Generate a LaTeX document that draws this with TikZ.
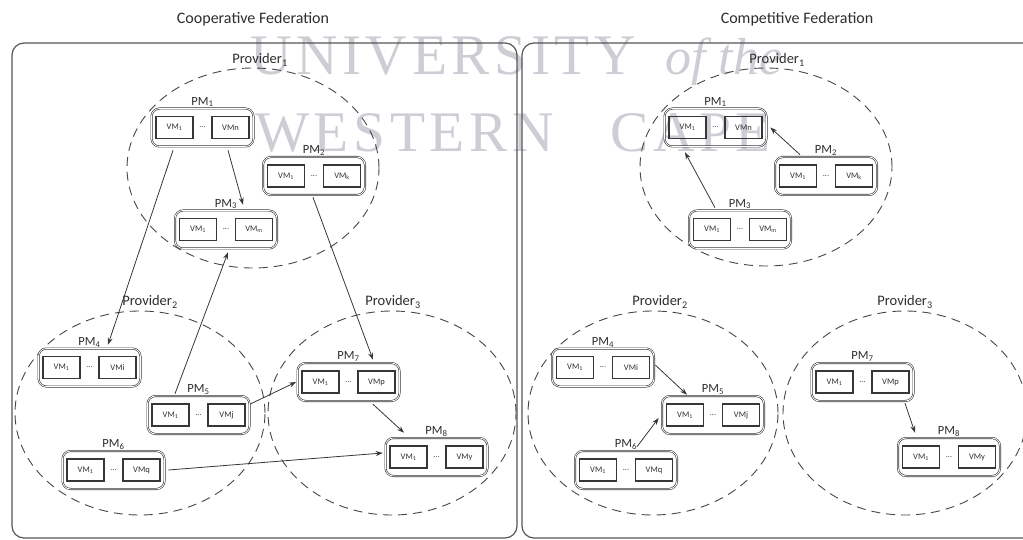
\documentclass[tikz,border=0pt]{standalone}
\usepackage{fontspec}
\setmainfont{Carlito}
\newfontfamily\wmfont[LetterSpace=8]{Liberation Serif}
\newfontfamily\wmitfont{Liberation Serif}
\usetikzlibrary{shapes.geometric,arrows.meta,calc}
\definecolor{ink}{RGB}{55,55,55}
\definecolor{txt}{RGB}{45,45,45}
\definecolor{frame}{RGB}{85,85,85}
\definecolor{wm}{RGB}{205,205,213}
\definecolor{dashc}{RGB}{70,70,70}

\tikzset{
  panel/.style={draw=frame, line width=1.2pt, rounded corners=12pt},
  provider/.style={ellipse, draw=dashc, line width=0.9pt, dash pattern=on 9pt off 6pt, inner sep=0pt},
  provlabel/.style={text=txt, font=\fontsize{14.5}{16}\selectfont, inner sep=0pt},
  pmbox/.style={draw=ink, double, double distance=0.8pt, line width=0.6pt, rounded corners=8pt,
                minimum width=102pt, minimum height=38pt, inner sep=0pt},
  vmbox/.style={draw=ink, line width=1.2pt, minimum width=37pt, minimum height=22pt, inner sep=0pt,
                font=\fontsize{8.5}{9}\selectfont, text=txt},
  pmlabel/.style={text=txt, font=\fontsize{12.5}{14}\selectfont, inner sep=0pt, anchor=base},
  flow/.style={draw=ink, line width=0.8pt, -{Stealth[length=7pt,width=5pt]}},
  title/.style={text=txt, font=\fontsize{16}{18}\selectfont, inner sep=0pt},
  watermark/.style={text=wm, inner sep=0pt, anchor=base west},
}

% a physical machine: rounded box holding two VM boxes and a dotted gap
% #1 name, #2 x, #3 y, #4 label, #5 text of the right VM
\newcommand\PMnode[5]{%
  \node[pmbox] (#1) at (#2,#3) {};
  \node[vmbox] (#1a) at ($(#1.center)+(-28,0)$) {VM\textsubscript{1}};
  \node[vmbox] (#1b) at ($(#1.center)+(28,0)$) {#5};
  \node[text=txt, font=\fontsize{8}{9}\selectfont, inner sep=0pt] (#1d) at (#1.center) {...};
  \node[pmlabel] (#1l) at ($(#1.north)+(0,-3)$) {#4};
}

\begin{document}
\begin{tikzpicture}[x=1pt,y=-1pt]
\useasboundingbox (0,0) rectangle (1023,540);
\clip (0,0) rectangle (1023,540);

% watermark
\node[watermark, font={\wmfont\fontsize{57.4}{60}\selectfont}] (wmU) at (250,75) {UNIVERSITY};
\node[watermark, font={\wmitfont\itshape\fontsize{52}{56}\selectfont}] (wmO) at (665,75) {of the};
\node[watermark, font={\wmfont\fontsize{57.4}{60}\selectfont}] (wmW) at (255,152) {WESTERN};
\node[watermark, font={\wmfont\fontsize{57.4}{60}\selectfont}] (wmC) at (610,152) {CAPE};

% titles and panels
\node[title] (tL) at (253,19) {Cooperative Federation};
\node[title] (tR) at (797,19) {Competitive Federation};
\draw[panel] (12,43) rectangle (517,538);
\draw[panel] (522,43) rectangle (1040,538);

% ---------- cooperative federation ----------
\node[provider, minimum width=252pt, minimum height=200pt] (p1L) at (253,168) {};
\node[provider, minimum width=250pt, minimum height=204pt] (p2L) at (140,413) {};
\node[provider, minimum width=248pt, minimum height=204pt] (p3L) at (392,413) {};
\node[provlabel] (p1Lt) at (260,60) {Provider\textsubscript{1}};
\node[provlabel] (p2Lt) at (150,302) {Provider\textsubscript{2}};
\node[provlabel] (p3Lt) at (393,302) {Provider\textsubscript{3}};

\PMnode{pm1L}{202.5}{127.5}{PM\textsubscript{1}}{VMn}
\PMnode{pm2L}{314}{176}{PM\textsubscript{2}}{VM\textsubscript{k}}
\PMnode{pm3L}{226}{229.5}{PM\textsubscript{3}}{VM\textsubscript{m}}
\PMnode{pm4L}{89.5}{367.5}{PM\textsubscript{4}}{VMi}
\PMnode{pm5L}{198.5}{415}{PM\textsubscript{5}}{VMj}
\PMnode{pm6L}{113.5}{470}{PM\textsubscript{6}}{VMq}
\PMnode{pm7L}{348.5}{382}{PM\textsubscript{7}}{VMp}
\PMnode{pm8L}{436.5}{457}{PM\textsubscript{8}}{VMy}

\draw[flow] ([xshift=-29.5pt,yshift=-3.5pt]pm1L.south) -- ([xshift=18.5pt,yshift=3.5pt]pm4L.north);
\draw[flow] ([xshift=25.5pt,yshift=-3.5pt]pm1L.south) -- ([xshift=17pt,yshift=5.5pt]pm3L.north);
\draw[flow] ([xshift=-23.5pt,yshift=2pt]pm5L.north) -- ([xshift=2pt,yshift=-3.5pt]pm3L.south);
\draw[flow] ([xshift=-1pt,yshift=-2pt]pm2L.south) -- ([xshift=24.5pt,yshift=3pt]pm7L.north);
\draw[flow] ([xshift=0.5pt,yshift=11pt]pm5L.east) -- ([xshift=-1pt]pm7L.west);
\draw[flow] ([xshift=24.5pt,yshift=-3pt]pm7L.south) -- ([xshift=-32.5pt,yshift=5pt]pm8L.north);
\draw[flow] ([xshift=3.5pt]pm6L.east) -- ([xshift=-2.5pt,yshift=4pt]pm8L.west);

% ---------- competitive federation ----------
\node[provider, minimum width=252pt, minimum height=198pt] (p1R) at (766,167) {};
\node[provider, minimum width=250pt, minimum height=204pt] (p2R) at (653,413) {};
\node[provider, minimum width=244pt, minimum height=204pt] (p3R) at (905,413) {};
\node[provlabel] (p1Rt) at (777,60) {Provider\textsubscript{1}};
\node[provlabel] (p2Rt) at (660,302) {Provider\textsubscript{2}};
\node[provlabel] (p3Rt) at (905,302) {Provider\textsubscript{3}};

\PMnode{pm1R}{715.5}{127.5}{PM\textsubscript{1}}{VMn}
\PMnode{pm2R}{826}{176}{PM\textsubscript{2}}{VM\textsubscript{k}}
\PMnode{pm3R}{740}{229.5}{PM\textsubscript{3}}{VM\textsubscript{m}}
\PMnode{pm4R}{603}{367.5}{PM\textsubscript{4}}{VMi}
\PMnode{pm5R}{713}{415}{PM\textsubscript{5}}{VMj}
\PMnode{pm6R}{626}{470}{PM\textsubscript{6}}{VMq}
\PMnode{pm7R}{862.5}{382}{PM\textsubscript{7}}{VMp}
\PMnode{pm8R}{949}{457}{PM\textsubscript{8}}{VMy}

\draw[flow] ([xshift=-26pt,yshift=2pt]pm2R.north) -- ([xshift=3.5pt]pm1R.east);
\draw[flow] ([xshift=-25pt,yshift=2.5pt]pm3R.north) -- ([xshift=-30.5pt,yshift=-5.5pt]pm1R.south);
\draw[flow] ([xshift=1pt,yshift=2.5pt]pm4R.east) -- ([xshift=-26pt,yshift=1pt]pm5R.north);
\draw[flow] ([xshift=11pt,yshift=4pt]pm6R.north) -- ([xshift=-3pt,yshift=-3pt]pm5R.west);
\draw[flow] ([xshift=42.5pt,yshift=-2pt]pm7R.south) -- ([xshift=-34pt,yshift=5pt]pm8R.north);
\end{tikzpicture}
\end{document}
